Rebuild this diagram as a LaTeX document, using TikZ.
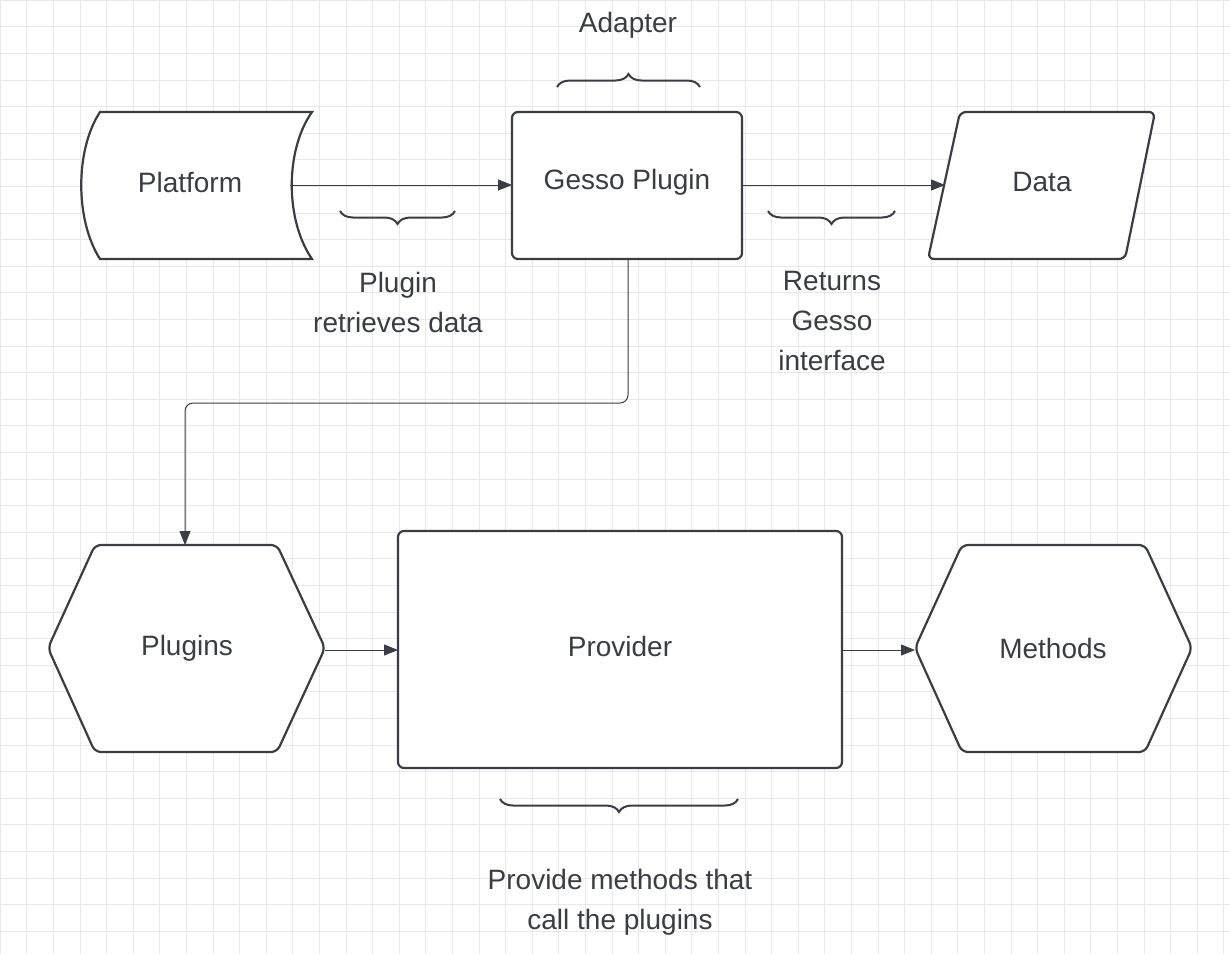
\documentclass[tikz,border=0pt]{standalone}
\usepackage{fontspec}
\setmainfont{Liberation Sans}
\usetikzlibrary{decorations.pathreplacing,arrows.meta}
\definecolor{ink}{HTML}{3A3D45}
\begin{document}
\begin{tikzpicture}[x=1pt,y=-1pt,
  shp/.style={draw=ink,line width=2.2pt,rounded corners=6pt,fill=white},
  lbl/.style={text=ink,font=\fontsize{28}{40}\selectfont,align=center},
  arr/.style={draw=ink,line width=1pt,-{Triangle[length=14pt,width=11pt]}},
  br/.style={draw=ink,line width=2pt,decorate,decoration={brace,amplitude=13pt}}]
\useasboundingbox (0,0) rectangle (1230,954);
\fill[white] (0,0) rectangle (1230,954);
\foreach \i in {0,...,47}{\draw[black!9,line width=0.6pt] (\i*26.6,0) -- (\i*26.6,954);}
\foreach \i in {0,...,36}{\draw[black!9,line width=0.6pt] (0,\i*26.6) -- (1230,\i*26.6);}
% shapes
\draw[shp,rounded corners=0pt] (100,112) -- (312,112) .. controls (285,150) and (285,220) .. (312,259) -- (100,259) .. controls (75,220) and (75,150) .. (100,112) -- cycle;
\node[lbl] (platform) at (190,182) {Platform};
\coordinate (platR) at (290,185);
\draw[shp] (512,112) rectangle (742,259);
\node[lbl] (gesso) at (627,182) {Gesso Plugin};
\coordinate (gessoR) at (742,185);
\coordinate (gessoL) at (512,185);
\coordinate (gessoB) at (628,259);
\draw[shp] (960,112) -- (1155,112) -- (1125,259) -- (928,259) -- cycle;
\node[lbl] (data) at (1042,182) {Data};
\coordinate (dataL) at (945,185);
\draw[shp] (48,648) -- (95,545) -- (277,545) -- (325,648) -- (277,752) -- (95,752) -- cycle;
\node[lbl] (plugins) at (187,648) {Plugins};
\coordinate (plugT) at (185,545);
\coordinate (plugR) at (325,650);
\draw[shp] (398,531) rectangle (842,768);
\node[lbl] (provider) at (620,646) {Provider};
\coordinate (provL) at (398,650);
\coordinate (provR) at (842,650);
\draw[shp] (915,648) -- (962,545) -- (1145,545) -- (1192,648) -- (1145,752) -- (962,752) -- cycle;
\node[lbl] (methods) at (1053,648) {Methods};
\coordinate (methL) at (915,650);
% connectors
\draw[arr] (platR) -- (gessoL);
\draw[arr] (gessoR) -- (dataL);
\draw[arr,rounded corners=8pt] (gessoB) -- (628,403) -- (185,403) -- (plugT);
\draw[arr] (plugR) -- (provL);
\draw[arr] (provR) -- (methL);
% braces
\draw[br] (557,87) -- (700,87);
\node[lbl] (adapter) at (628,25) {Adapter};
\draw[br] (455,211) -- (340,211);
\node[lbl] (retr) at (398,302) {Plugin\\retrieves data};
\draw[br] (895,211) -- (768,211);
\node[lbl] (ret) at (832,321) {Returns\\Gesso\\interface};
\draw[br] (738,799) -- (500,799);
\node[lbl] (prov) at (620,902) {Provide methods that\\call the plugins};
\end{tikzpicture}
\end{document}
